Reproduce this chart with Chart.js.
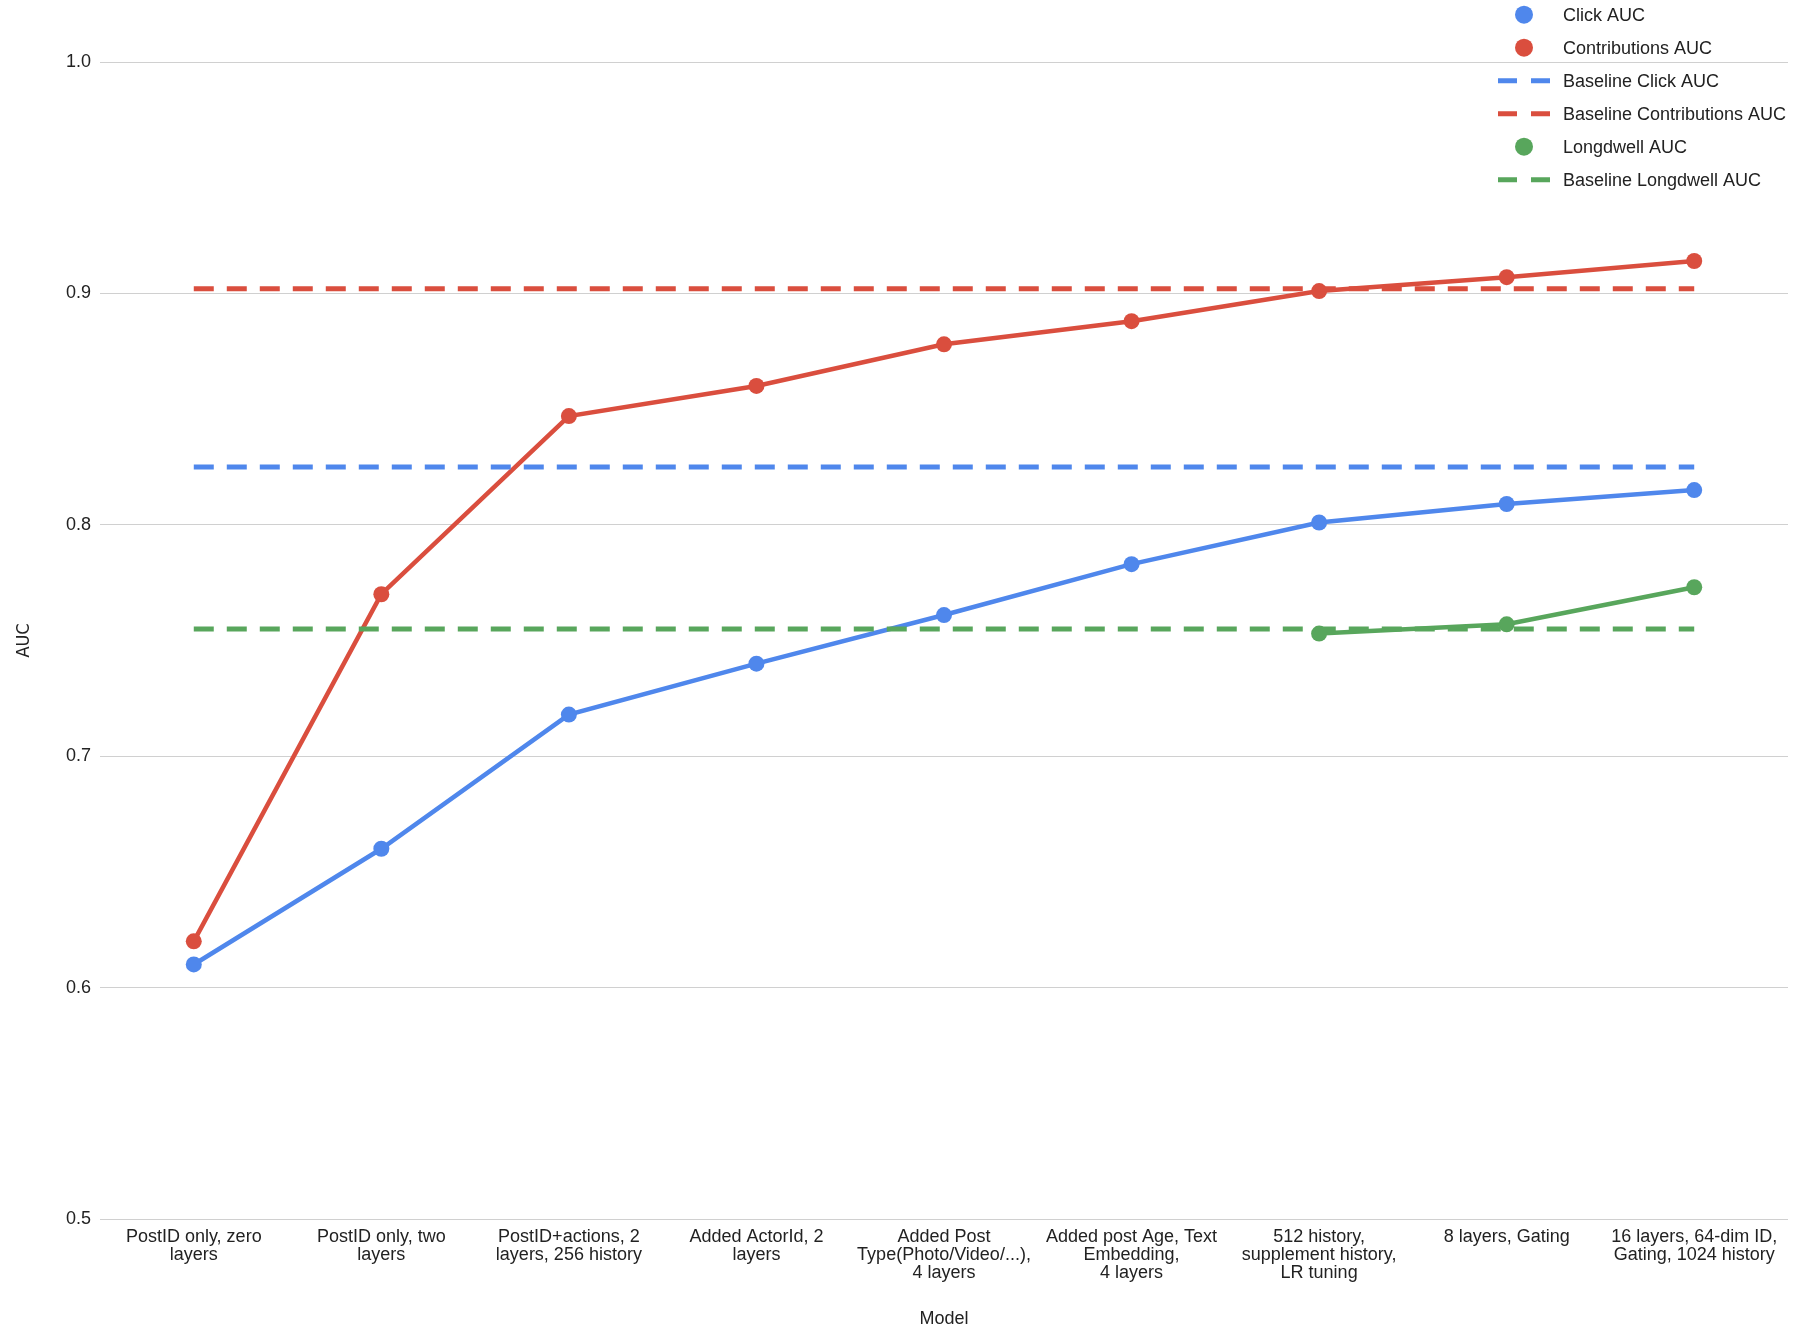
<!DOCTYPE html>
<html>
<head>
<meta charset="utf-8">
<script src="https://cdn.jsdelivr.net/npm/chart.js@4/dist/chart.umd.min.js"></script>
<style>
  html, body { margin: 0; padding: 0; background: #ffffff; }
  #wrap { width: 1796px; height: 1332px; }
</style>
</head>
<body>
<div id="wrap"><canvas id="c" width="1796" height="1332"></canvas></div>
<script>
const categories = [
  ["PostID only, zero", "layers"],
  ["PostID only, two", "layers"],
  ["PostID+actions, 2", "layers, 256 history"],
  ["Added ActorId, 2", "layers"],
  ["Added Post", "Type(Photo/Video/...),", "4 layers"],
  ["Added post Age, Text", "Embedding,", "4 layers"],
  ["512 history,", "supplement history,", "LR tuning"],
  ["8 layers, Gating"],
  ["16 layers, 64-dim ID,", "Gating, 1024 history"]
];
const clickAUC = [0.610, 0.660, 0.718, 0.740, 0.761, 0.783, 0.801, 0.809, 0.815];
const contributionsAUC = [0.620, 0.770, 0.847, 0.860, 0.878, 0.888, 0.901, 0.907, 0.914];
const baselineClickAUC = [0.825, 0.825, 0.825, 0.825, 0.825, 0.825, 0.825, 0.825, 0.825];
const baselineContributionsAUC = [0.902, 0.902, 0.902, 0.902, 0.902, 0.902, 0.902, 0.902, 0.902];
const longdwellAUC = [null, null, null, null, null, null, 0.753, 0.757, 0.773];
const baselineLongdwellAUC = [0.755, 0.755, 0.755, 0.755, 0.755, 0.755, 0.755, 0.755, 0.755];
const yTicks = [0.5, 0.6, 0.7, 0.8, 0.9, 1.0];

const BLUE = '#4f87ec';
const RED = '#da4e3e';
const GREEN = '#58a65c';
const FONT = '"Liberation Sans", Arial, Helvetica, sans-serif';

function solid(label, data, color, idx) {
  return {
    label, data,
    borderColor: color, backgroundColor: color,
    borderWidth: 4.5, pointRadius: 8, pointHoverRadius: 8,
    pointBorderWidth: 0, pointBackgroundColor: color,
    tension: 0, fill: false, order: -idx
  };
}
function dashed(label, data, color, idx) {
  return {
    label, data,
    borderColor: color, backgroundColor: color,
    borderWidth: 5, borderDash: [20, 13], borderCapStyle: 'butt',
    pointRadius: 0, pointHoverRadius: 0,
    tension: 0, fill: false, order: -idx
  };
}

const legendPlugin = {
  id: 'customLegend',
  afterDraw(chart) {
    const ctx = chart.ctx;
    ctx.save();
    ctx.font = '18px ' + FONT;
    ctx.textBaseline = 'middle';
    ctx.textAlign = 'left';
    chart.data.datasets.forEach((ds, i) => {
      const y = 14.7 + 33 * i;
      if (ds.borderDash) {
        ctx.strokeStyle = ds.borderColor;
        ctx.lineWidth = 5;
        ctx.setLineDash([19, 14]);
        ctx.beginPath();
        ctx.moveTo(1498, y);
        ctx.lineTo(1551, y);
        ctx.stroke();
        ctx.setLineDash([]);
      } else {
        ctx.fillStyle = ds.borderColor;
        ctx.beginPath();
        ctx.arc(1524, y, 9, 0, Math.PI * 2);
        ctx.fill();
      }
      ctx.fillStyle = '#222222';
      ctx.fillText(ds.label, 1563, y + 1);
    });
    ctx.restore();
  }
};

new Chart(document.getElementById('c'), {
  type: 'line',
  data: {
    labels: categories,
    datasets: [
      solid('Click AUC', clickAUC, BLUE, 0),
      solid('Contributions AUC', contributionsAUC, RED, 1),
      dashed('Baseline Click AUC', baselineClickAUC, BLUE, 2),
      dashed('Baseline Contributions AUC', baselineContributionsAUC, RED, 3),
      solid('Longdwell AUC', longdwellAUC, GREEN, 4),
      dashed('Baseline Longdwell AUC', baselineLongdwellAUC, GREEN, 5)
    ]
  },
  options: {
    responsive: false,
    animation: false,
    devicePixelRatio: 1,
    layout: { padding: { top: 62, right: 6, left: 0, bottom: 0 } },
    plugins: {
      legend: { display: false },
      tooltip: { enabled: false },
      title: { display: false }
    },
    scales: {
      x: {
        type: 'category',
        offset: true,
        grid: { display: false, drawTicks: false },
        border: { display: false },
        ticks: {
          autoSkip: false, maxRotation: 0, minRotation: 0,
          padding: 9,
          color: '#222222',
          font: { family: FONT, size: 18, lineHeight: 1.0 }
        },
        title: {
          display: true, text: 'Model', color: '#222222',
          font: { family: FONT, size: 18, lineHeight: 1.2 },
          padding: { top: 0, bottom: 2 }
        },
        afterFit(scale) {
          scale.height = 113;
          scale.paddingLeft = 0;
          scale.paddingRight = 0;
        }
      },
      y: {
        min: 0.5, max: 1.0,
        afterBuildTicks(scale) { scale.ticks = yTicks.map(v => ({ value: v })); },
        grid: { color: '#d0d0d0', lineWidth: 1, drawTicks: false },
        border: { display: false },
        ticks: {
          padding: 9,
          color: '#222222',
          font: { family: FONT, size: 18 },
          callback: (v) => Number(v).toFixed(1)
        },
        title: {
          display: true, text: 'AUC', color: '#222222',
          font: { family: '"Liberation Sans Narrow", "DejaVu Sans Condensed", ' + FONT, size: 18, lineHeight: 1.2 },
          padding: { top: 14, bottom: 0 }
        },
        afterFit(scale) {
          scale.width = 100;
          scale.paddingTop = 0;
          scale.paddingBottom = 0;
        }
      }
    }
  },
  plugins: [legendPlugin]
});
</script>
</body>
</html>
